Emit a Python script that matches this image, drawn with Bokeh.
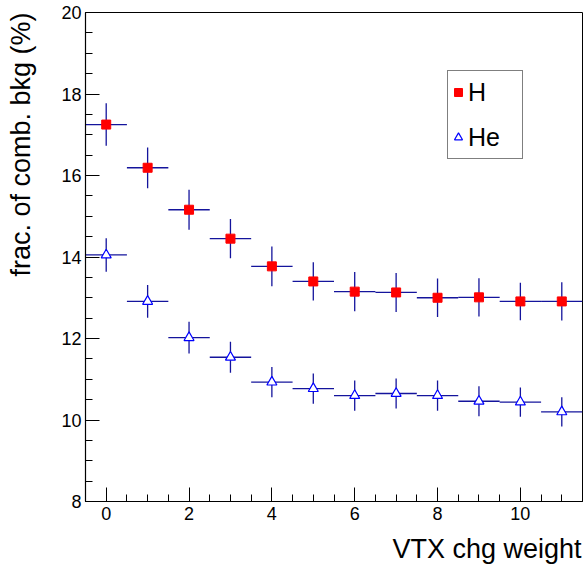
import numpy as np
from bokeh.plotting import figure
from bokeh.models import Range1d, Legend, LegendItem, FixedTicker, Title
from bokeh.embed import file_html
from bokeh.resources import INLINE

# --- data ---
weights = [0, 1, 2, 3, 4, 5, 6, 7, 8, 9, 10, 11]
h_frac = [17.25, 16.19, 15.16, 14.45, 13.77, 13.40, 13.15, 13.13, 13.00, 13.01, 12.91, 12.91]
h_err = [0.52, 0.50, 0.49, 0.48, 0.49, 0.47, 0.48, 0.48, 0.47, 0.47, 0.46, 0.47]
he_frac = [14.05, 12.91, 12.02, 11.54, 10.93, 10.77, 10.60, 10.65, 10.60, 10.46, 10.44, 10.20]
he_err = [0.41, 0.40, 0.39, 0.38, 0.37, 0.37, 0.37, 0.37, 0.37, 0.37, 0.36, 0.36]
bin_half_width = 0.5
x_ticks = [0, 2, 4, 6, 8, 10]
y_ticks = [8, 10, 12, 14, 16, 18, 20]

FONT = "Liberation Sans"
ERR_COLOR = "#14149c"

p = figure(width=583, height=565, output_backend="svg", toolbar_location=None,
           x_range=Range1d(-0.5, 11.5), y_range=Range1d(8, 20),
           min_border_left=85, min_border_right=1, min_border_top=12, min_border_bottom=64)
p.background_fill_color = "white"
p.border_fill_color = "white"
p.outline_line_color = "black"
p.outline_line_width = 1
p.grid.visible = False

for ax in (p.xaxis[0], p.yaxis[0]):
    ax.major_tick_in = 14
    ax.major_tick_out = 0
    ax.minor_tick_in = 7
    ax.minor_tick_out = 0
    ax.axis_line_color = "black"
    ax.axis_line_width = 1.2
    ax.major_tick_line_color = "black"
    ax.minor_tick_line_color = "black"
    ax.major_label_text_font = FONT
    ax.major_label_text_font_size = "18px"
    ax.major_label_text_color = "black"

p.xaxis[0].ticker = FixedTicker(ticks=x_ticks, minor_ticks=list(np.arange(-0.5, 11.51, 0.5)))
p.yaxis[0].ticker = FixedTicker(ticks=y_ticks, minor_ticks=list(np.arange(8, 20.01, 0.5)))
p.xaxis[0].major_label_standoff = 5
p.yaxis[0].major_label_standoff = 4

# spacers between axes and titles (push the titles outward)
xspacer = Title(text=" ", text_font_size="1px", standoff=6)
yspacer = Title(text=" ", text_font_size="1px", standoff=20)
p.add_layout(xspacer, "below")
p.add_layout(yspacer, "left")

# axis titles, ROOT-style aligned to the axis end
xtitle = Title(text="VTX chg weight", align="right", text_font=FONT, text_font_size="27px",
               text_font_style="normal", text_color="black", standoff=0, offset=1)
ytitle = Title(text="frac. of comb. bkg (%)", align="right", text_font=FONT, text_font_size="27px",
               text_font_style="normal", text_color="black", standoff=0, offset=0)
p.add_layout(xtitle, "below")
p.add_layout(ytitle, "left")

w = np.array(weights, dtype=float)
hy = np.array(h_frac); he_ = np.array(h_err)
ey = np.array(he_frac); ee = np.array(he_err)

# error bars
p.segment(x0=w - bin_half_width, x1=w + bin_half_width, y0=hy, y1=hy, line_color=ERR_COLOR, line_width=1.3)
p.segment(x0=w, x1=w, y0=hy - he_, y1=hy + he_, line_color=ERR_COLOR, line_width=1.3)
p.segment(x0=w - bin_half_width, x1=w + bin_half_width, y0=ey, y1=ey, line_color=ERR_COLOR, line_width=1.3)
p.segment(x0=w, x1=w, y0=ey - ee, y1=ey + ee, line_color=ERR_COLOR, line_width=1.3)

r_h = p.scatter(x=w, y=hy, marker="square", size=9, fill_color="#ff0000", line_color="#ff0000")
r_he = p.scatter(x=w, y=ey, marker="triangle", size=10, fill_color="white", line_color="#0000ff", line_width=1.2)

legend = Legend(items=[LegendItem(label="H", renderers=[r_h]),
                       LegendItem(label="He", renderers=[r_he])],
                location=(362, 342))
legend.padding = 0
legend.spacing = 3
legend.glyph_width = 20
legend.glyph_height = 42
legend.label_height = 42
legend.label_width = 54
legend.label_standoff = 0
legend.label_text_font = FONT
legend.label_text_font_size = "25px"
legend.label_text_color = "black"
legend.border_line_color = "black"
legend.border_line_width = 1.3
legend.background_fill_color = "white"
legend.background_fill_alpha = 1.0
legend.margin = 0
p.add_layout(legend, "center")

open("out.html", "w").write(file_html(p, INLINE))
